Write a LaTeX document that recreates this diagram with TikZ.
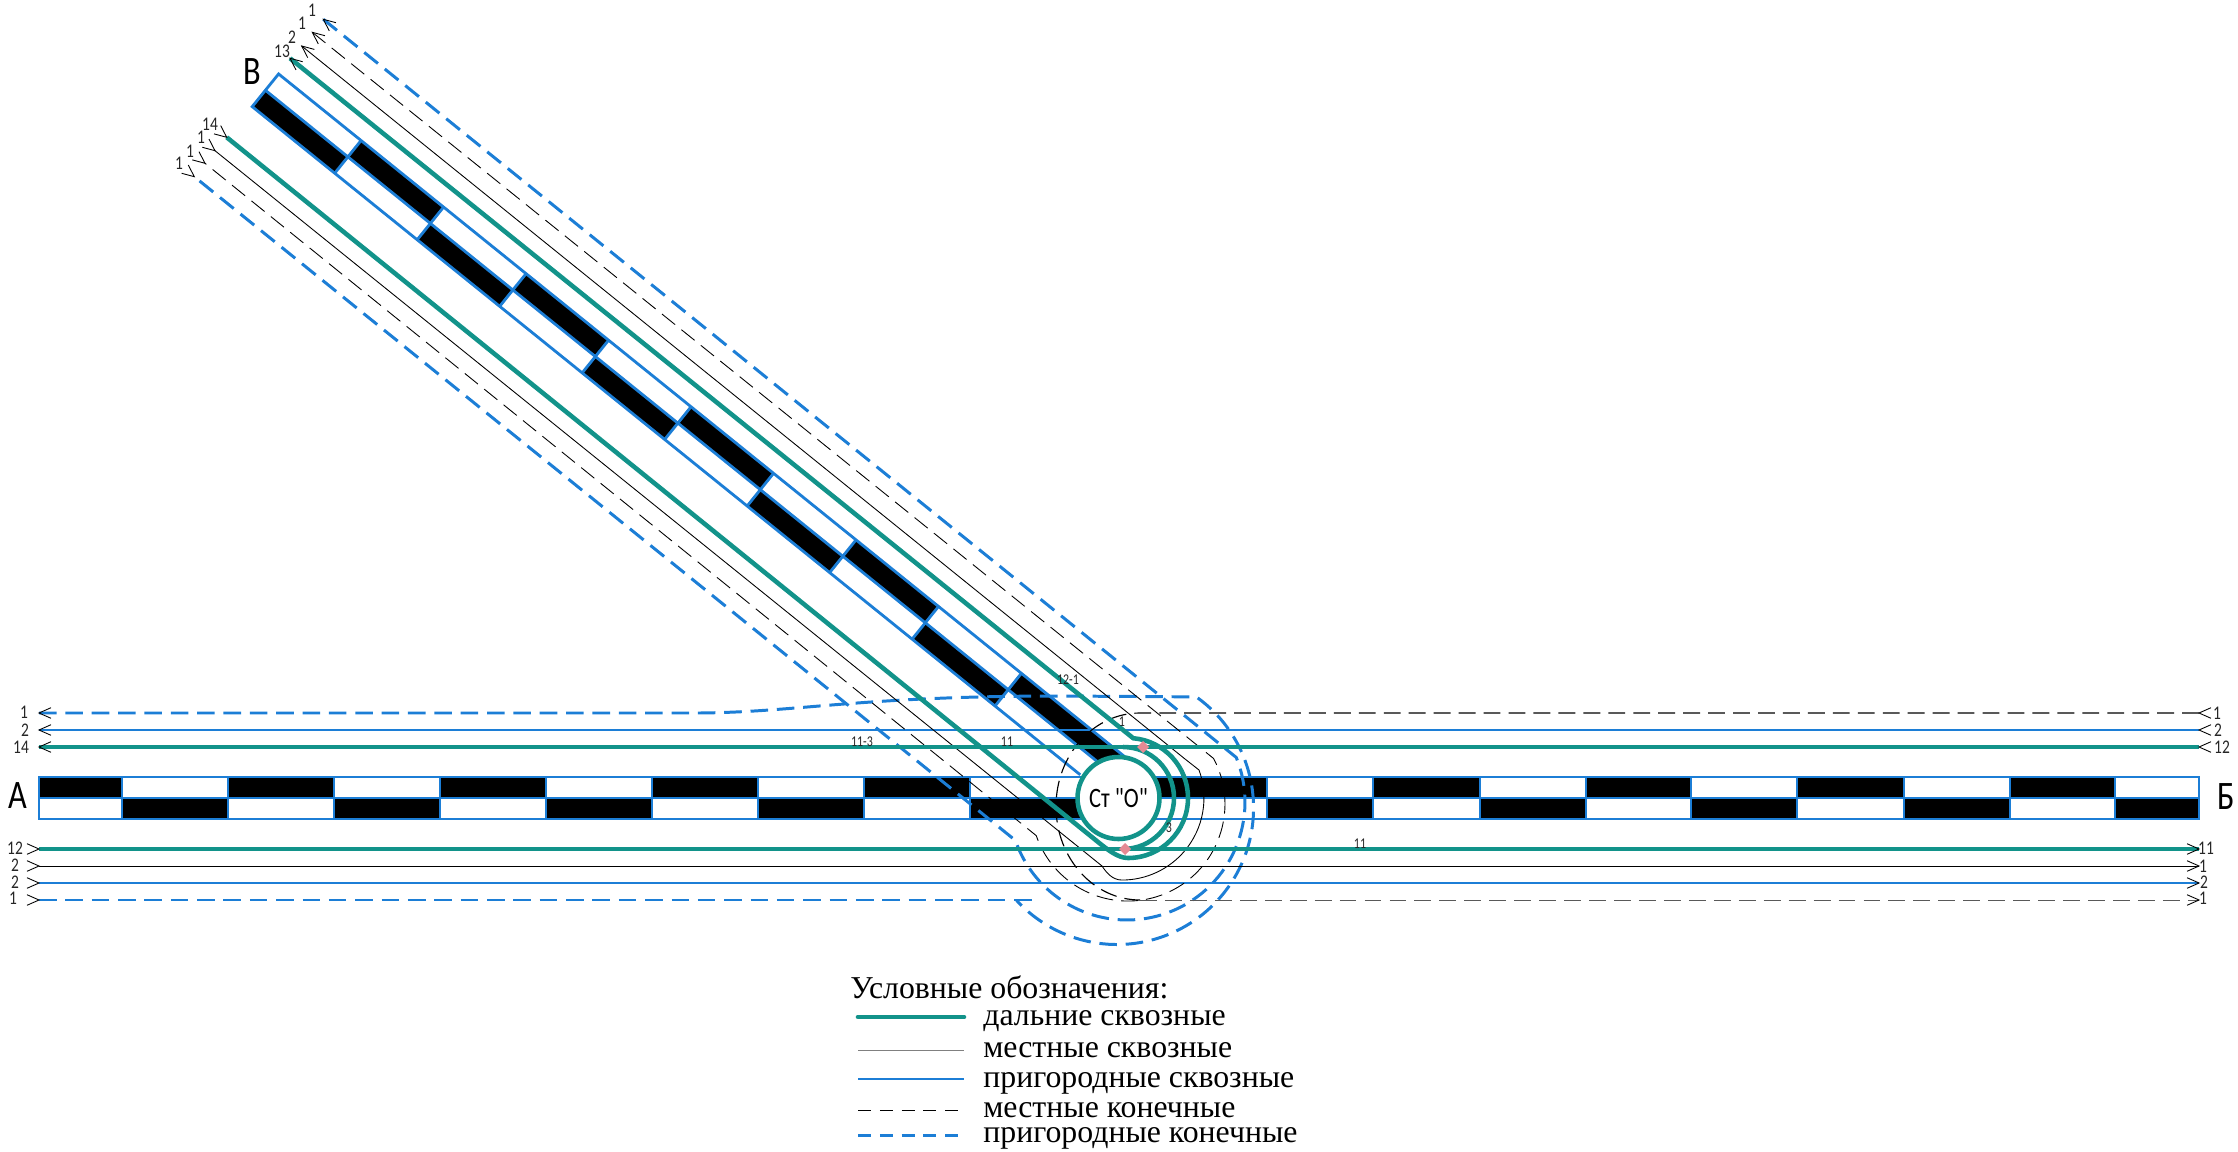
\documentclass[tikz,border=0pt]{standalone}
\usepackage{fontspec}
\setmainfont{Liberation Serif}
\newfontfamily\gostfont[FakeStretch=0.8]{Carlito}
\definecolor{farteal}{HTML}{12938A}
\definecolor{subblue}{HTML}{1C7ED6}
\definecolor{spotpink}{HTML}{E58A94}
\tikzset{
	farline/.style = {draw=farteal, line width=2.6pt},
	localline/.style = {draw=black, line width=.5pt},
	subline/.style = {draw=subblue, line width=1.4pt},
	localdashline/.style = {localline, dash pattern=on 9.6pt off 4.6pt},
	subdashline/.style = {draw=subblue, line width=1.7pt, dash pattern=on 10pt off 5pt},
	trackedge/.style = {draw=subblue, line width=1.6pt},
	lightlabel/.style = {inner sep=0pt, font=\gostfont\fontsize{11}{11}\selectfont, text=black!85},
	tinylabel/.style = {inner sep=0pt, font=\gostfont\fontsize{8.5}{9}\selectfont, text=black!85},
	endlabel/.style = {inner sep=0pt, font=\gostfont\fontsize{23}{23}\selectfont},
	legendtext/.style = {inner sep=0pt, anchor=base west, font=\fontsize{18.1}{18}\selectfont},
	vmark/.pic = {\draw[localline] (-12,-5.3) -- (0,0) -- (-12,5.3);},
	spot/.style = {fill=spotpink, diamond, inner sep=0pt, minimum size=7pt}
}
\usetikzlibrary{shapes.geometric}
\begin{document}
\begin{tikzpicture}[x=0.02cm, y=-0.02cm]
	\useasboundingbox (0,0) rectangle (2238,1152);

	% horizontal track A-B
	\fill[black] (39,777) rectangle (122,798) (228,777) rectangle (334,798) (440,777) rectangle (546,798) (652,777) rectangle (758,798) (864,777) rectangle (970,798) (1118,777) rectangle (1267,798) (1373,777) rectangle (1480,798) (1586,777) rectangle (1691,798) (1797,777) rectangle (1904,798) (2010,777) rectangle (2115,798);
	\fill[black] (122,798) rectangle (228,819) (334,798) rectangle (440,819) (546,798) rectangle (652,819) (758,798) rectangle (864,819) (970,798) rectangle (1118,819) (1267,798) rectangle (1373,819) (1480,798) rectangle (1586,819) (1691,798) rectangle (1797,819) (1904,798) rectangle (2010,819) (2115,798) rectangle (2199,819);
	\draw[trackedge] (39,777) rectangle (2199,819) (39,798) -- (2199,798);
	\draw[trackedge] (122,777) -- (122,819) (228,777) -- (228,819) (334,777) -- (334,819) (440,777) -- (440,819) (546,777) -- (546,819) (652,777) -- (652,819) (758,777) -- (758,819) (864,777) -- (864,819) (970,777) -- (970,819) (1267,777) -- (1267,819) (1373,777) -- (1373,819) (1480,777) -- (1480,819) (1586,777) -- (1586,819) (1691,777) -- (1691,819) (1797,777) -- (1797,819) (1904,777) -- (1904,819) (2010,777) -- (2010,819) (2115,777) -- (2115,819);

	% diagonal track
	\begin{scope}[shift={(265.4,90.3)}, rotate=-38.9]
		\fill[black] (0,0) rectangle (106,21) (212,0) rectangle (318,21) (424,0) rectangle (530,21) (636,0) rectangle (742,21) (848,0) rectangle (954.5,21);
		\fill[black] (106,-21) rectangle (212,0) (318,-21) rectangle (424,0) (530,-21) rectangle (636,0) (742,-21) rectangle (848,0) (954.5,-21) rectangle (1095,0);
		\draw[trackedge] (1095,-21) -- (0,-21) -- (0,21) -- (1064,21) (0,0) -- (1090,0);
		\draw[trackedge] (106,-21) -- (106,21) (212,-21) -- (212,21) (318,-21) -- (318,21) (424,-21) -- (424,21) (530,-21) -- (530,21) (636,-21) -- (636,21) (742,-21) -- (742,21) (848,-21) -- (848,21) (954.5,-21) -- (954.5,21);
	\end{scope}

	% suburban lines
	\draw[subline] (39,730) -- (2199,730);
	\draw[subline] (39,883) -- (2199,883);
	\draw[subdashline] (39,713) -- (700,713) .. controls (800,712) and (860,696) .. (1060,696) -- (1196.3,696.9) arc[start angle=-54.5, end angle=137.4, radius=136.5];
	\draw[subdashline, line width=1.3pt] (39,900) -- (1038,900);
	\draw[subdashline] (323.3,19.3) -- (1236.2,757.4) arc[start angle=-22.2, end angle=161, radius=118] -- (194.3,176.7);

	% local lines
	\draw[localline] (39,866) -- (2199,866);
	\draw[localline] (301.7,46) -- (1185,759) -- (1199,770) arc[start angle=-20, end angle=90, radius=82] .. controls (1112,880) and (1106,872) .. (1102,866) -- (215,150.7);
	\draw[localdashline, line width=.65pt] (2199,713) -- (1140,713) arc[start angle=-90, end angle=-270, x radius=84, y radius=93.5];
	\draw[localdashline, draw=black!65] (1140,900) -- (2199,900);
	\draw[localdashline] (312.3,32.3) -- (1213.6,758.5) arc[start angle=-28, end angle=161, radius=97] -- (205,163.3);

	% long distance lines
	\draw[farline] (39,747) -- (2199,747);
	\draw[farline] (39,849) -- (2199,849);
	\draw[farline] (226.7,137.3) -- (1098,842) .. controls (1108,850) and (1118,858) .. (1128,858) arc[start angle=90, end angle=-85, radius=60] -- (290,58.3);
	\draw[farline] (1123,747) arc[start angle=-90, end angle=90, radius=51];

	% station
	\node (station) at (1118.5,798) [circle, draw=farteal, line width=2.6pt, fill=white, minimum size=82*0.02cm, inner sep=0pt, font=\gostfont\fontsize{16}{16}\selectfont] {Ст "О"};
	\node (spottop) at (1143,747) [spot] {};
	\node (spotbottom) at (1125,849) [spot] {};

	% marks at the line ends
	\pic[rotate=180] at (39,713) {vmark};
	\pic[rotate=180] at (39,730) {vmark};
	\pic[rotate=180] at (39,747) {vmark};
	\pic at (39,849) {vmark};
	\pic at (39,866) {vmark};
	\pic at (39,883) {vmark};
	\pic at (39,900) {vmark};
	\pic[rotate=180] at (2199,713) {vmark};
	\pic[rotate=180] at (2199,730) {vmark};
	\pic[rotate=180] at (2199,747) {vmark};
	\pic at (2199,849) {vmark};
	\pic at (2199,866) {vmark};
	\pic at (2199,883) {vmark};
	\pic at (2199,900) {vmark};
	\pic[rotate=141.1] at (323.3,19.3) {vmark};
	\pic[rotate=141.1] at (312.3,32.3) {vmark};
	\pic[rotate=141.1] at (301.7,46) {vmark};
	\pic[rotate=141.1] at (290,58.3) {vmark};
	\pic[rotate=-38.9] at (226.7,137.3) {vmark};
	\pic[rotate=-38.9] at (215,150.7) {vmark};
	\pic[rotate=-38.9] at (205,163.3) {vmark};
	\pic[rotate=-38.9] at (194.3,176.7) {vmark};

	% line numbers
	\node (lt1) at (24,712) [lightlabel] {1};
	\node (lt2) at (25,730) [lightlabel] {2};
	\node (lt3) at (21,747) [lightlabel] {14};
	\node (lb1) at (15,848) [lightlabel] {12};
	\node (lb2) at (15,865) [lightlabel] {2};
	\node (lb3) at (15,882) [lightlabel] {2};
	\node (lb4) at (13,898) [lightlabel] {1};
	\node (rt1) at (2217,713) [lightlabel] {1};
	\node (rt2) at (2218,730) [lightlabel] {2};
	\node (rt3) at (2222,747) [lightlabel] {12};
	\node (rb1) at (2206,848) [lightlabel] {11};
	\node (rb2) at (2203,866) [lightlabel] {1};
	\node (rb3) at (2204,882) [lightlabel] {2};
	\node (rb4) at (2203,898) [lightlabel] {1};
	\node (du1) at (312,10) [lightlabel] {1};
	\node (du2) at (302,23) [lightlabel] {1};
	\node (du3) at (292,37) [lightlabel] {2};
	\node (du4) at (282,51) [lightlabel] {13};
	\node (dl1) at (210,124) [lightlabel] {14};
	\node (dl2) at (201,137) [lightlabel] {1};
	\node (dl3) at (190,151) [lightlabel] {1};
	\node (dl4) at (179,163) [lightlabel] {1};
	\node (mid1) at (862,742) [tinylabel] {11-3};
	\node (mid2) at (1007,742) [tinylabel] {11};
	\node (mid3) at (1068,680) [tinylabel] {12-1};
	\node (mid4) at (1122,722) [tinylabel] {1};
	\node (mid5) at (1169,828) [tinylabel] {3};
	\node (mid6) at (1360,844) [tinylabel] {11};

	% directions
	\node (dirA) at (18,796) [endlabel] {А};
	\node (dirB) at (2226,797) [endlabel] {Б};
	\node (dirC) at (252,72) [endlabel] {В};

	% legend
	\node (legtitle) at (850,998) [legendtext] {Условные обозначения:};
	\node (leg1) at (983,1025) [legendtext] {дальние сквозные};
	\node (leg2) at (983,1057) [legendtext] {местные сквозные};
	\node (leg3) at (983,1087) [legendtext] {пригородные сквозные};
	\node (leg4) at (983,1117) [legendtext] {местные конечные};
	\node (leg5) at (983,1142) [legendtext] {пригородные конечные};
	\coordinate (legs1) at (858,1017);
	\coordinate (legs2) at (858,1050);
	\coordinate (legs3) at (858,1079);
	\coordinate (legs4) at (858,1110);
	\coordinate (legs5) at (858,1135);
	\draw[farline, line cap=round] (legs1) -- ++(106,0);
	\draw[localline, draw=black!50] (legs2) -- ++(106,0);
	\draw[subline] (legs3) -- ++(106,0);
	\draw[localline, dash pattern=on 7.4pt off 5pt] (legs4) -- ++(106,0);
	\draw[subdashline, dash pattern=on 7.4pt off 5pt] (legs5) -- ++(106,0);
\end{tikzpicture}
\end{document}
